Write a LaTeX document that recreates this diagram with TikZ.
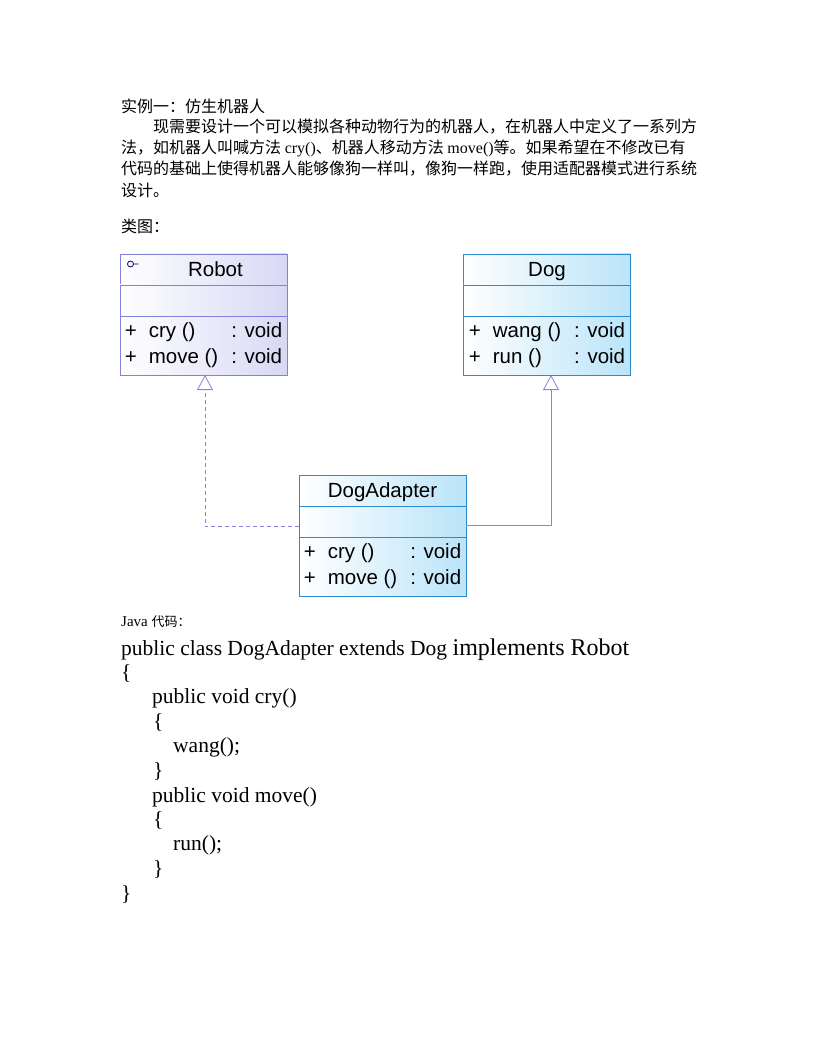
\documentclass[tikz,border=0pt]{standalone}
\usepackage{fontspec}
\setmainfont{Liberation Serif}
\newfontfamily\cjk{Noto Sans CJK SC}
\newfontfamily\umlfont{Liberation Sans}
\usetikzlibrary{positioning}
\usetikzlibrary{arrows.meta}
\definecolor{robotfill}{RGB}{216,216,246}
\definecolor{robotline}{RGB}{130,130,222}
\definecolor{dogfill}{RGB}{186,228,249}
\definecolor{dogline}{RGB}{45,140,205}
\definecolor{linkcolor}{RGB}{133,133,221}

\tikzset{
  part/.style={rectangle, minimum width=167pt, inner sep=0pt, outer sep=0pt, line width=0.9pt, font=\umlfont\fontsize{20.5}{26}\selectfont},
  robotpart/.style={part, draw=robotline, left color=white, right color=robotfill},
  dogpart/.style={part, draw=dogline, left color=white, right color=dogfill},
  headtext/.style={text height=16.5pt, text depth=2.5pt},
  txt/.style={anchor=west, inner sep=0pt, font=\cjk\fontsize{16}{16}\selectfont},
  code/.style={anchor=base west, inner sep=0pt, font=\fontsize{21.5}{21.5}\selectfont},
  realize/.style={draw=linkcolor, line width=0.8pt, dash pattern=on 4pt off 3pt, -{Triangle[open,length=15pt,width=16pt]}},
  inherit/.style={draw=linkcolor, line width=0.8pt, -{Triangle[open,length=15pt,width=16pt]}},
}

\begin{document}
\begin{tikzpicture}[x=1pt, y=-1pt]
  \useasboundingbox (0,0) rectangle (816,1056);
  \fill[white] (0,0) rectangle (816,1056);

  % Problem text
  \node[txt] (title) at (121,106) {实例一：仿生机器人};
  \node[txt] (para1) at (153,127) {现需要设计一个可以模拟各种动物行为的机器人，在机器人中定义了一系列方};
  \node[txt] (para2) at (121,148) {法，如机器人叫喊方法 {\rmfamily cry()}、机器人移动方法 {\rmfamily move()}等。如果希望在不修改已有};
  \node[txt] (para3) at (121,169) {代码的基础上使得机器人能够像狗一样叫，像狗一样跑，使用适配器模式进行系统};
  \node[txt] (para4) at (121,190) {设计。};
  \node[txt] (diagramlabel) at (121,226) {类图：};

  % Robot
  \node[robotpart, headtext, minimum height=31pt] (robothead) at (203.5,269.5) {\hspace*{24pt}Robot};
  \node[robotpart, minimum height=31pt, below=0pt of robothead] (robotattr) {};
  \node[robotpart, minimum height=59pt, below=0pt of robotattr] (robotops) {\begin{tabular}{@{}l@{\hspace{12pt}}l@{\hspace{13pt}}l@{}}+ & cry () & : void\\+ & move () & : void\end{tabular}};
  \draw[draw=black!60!blue, line width=0.8pt] ([xshift=10.5pt,yshift=-10pt]robothead.north west) circle (3pt) ++(3pt,0) -- ++(5pt,0);

  % Dog
  \node[dogpart, headtext, minimum height=31pt] (doghead) at (547,269.5) {Dog};
  \node[dogpart, minimum height=31pt, below=0pt of doghead] (dogattr) {};
  \node[dogpart, minimum height=59pt, below=0pt of dogattr] (dogops) {\begin{tabular}{@{}l@{\hspace{12pt}}l@{\hspace{13pt}}l@{}}+ & wang () & : void\\+ & run () & : void\end{tabular}};

  % DogAdapter
  \node[dogpart, headtext, minimum height=31pt] (adapterhead) at (382.5,490.5) {DogAdapter};
  \node[dogpart, minimum height=31pt, below=0pt of adapterhead] (adapterattr) {};
  \node[dogpart, minimum height=59pt, below=0pt of adapterattr] (adapterops) {\begin{tabular}{@{}l@{\hspace{12pt}}l@{\hspace{13pt}}l@{}}+ & cry () & : void\\+ & move () & : void\end{tabular}};

  % Relations
  \draw[realize] ([yshift=-5pt]adapterattr.west) -| ([xshift=1.5pt]robotops.south);
  \draw[inherit] ([yshift=-4pt]adapterattr.east) -| ([xshift=4pt]dogops.south);

  % Java code
  \node[code, font=\fontsize{15}{15}\selectfont] (javalabel) at (121,626) {Java {\cjk\fontsize{13}{13}\selectfont 代码：}};
  \node[code] (classline) at (121,655) {public class DogAdapter extends Dog {\fontsize{24}{24}\selectfont implements Robot}};
  \node[code] (classopen) at (121,679) {\{};
  \node[code] (crydecl) at (152,703) {public void cry()};
  \node[code] (cryopen) at (153,728) {\{};
  \node[code] (crybody) at (173,752) {wang();};
  \node[code] (cryclose) at (153,777) {\}};
  \node[code] (movedecl) at (152,802) {public void move()};
  \node[code] (moveopen) at (153,826) {\{};
  \node[code] (movebody) at (173,850) {run();};
  \node[code] (moveclose) at (153,875) {\}};
  \node[code] (classclose) at (121,900) {\}};
\end{tikzpicture}
\end{document}
